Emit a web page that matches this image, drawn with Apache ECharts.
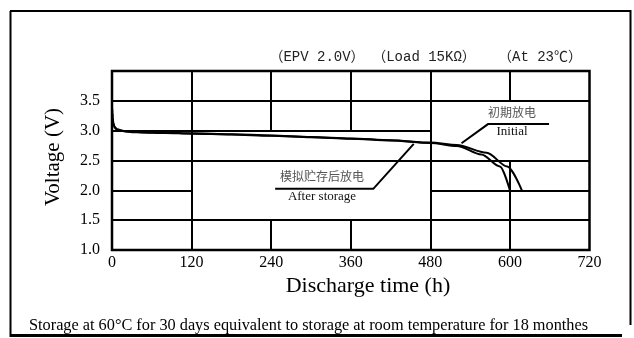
<!DOCTYPE html>
<html>
<head>
<meta charset="utf-8">
<script src="https://cdn.jsdelivr.net/npm/echarts@6/dist/echarts.min.js"></script>
<style>
html,body{margin:0;padding:0;background:#fff;}
#chart{width:634px;height:338px;}
</style>
</head>
<body>
<div id="chart"></div>
<script>
// ---- data ----
var xTicks = [0, 120, 240, 360, 480, 600, 720];
var yTickLabels = ['1.0', '1.5', '2.0', '2.5', '3.0', '3.5'];

var initialTime = [0, 0.5, 1, 2, 4, 7, 12, 20, 30, 45, 80, 120, 180, 240, 300, 360, 420, 480, 520, 565, 596, 618];
var initialVolt = [3.40, 3.30, 3.22, 3.13, 3.06, 3.03, 3.01, 2.99, 2.98, 2.975, 2.965, 2.955, 2.94, 2.92, 2.895, 2.87, 2.84, 2.80, 2.76, 2.63, 2.40, 2.00];

var storageTime = [0, 0.5, 1, 2, 4, 7, 12, 20, 30, 45, 80, 120, 180, 240, 300, 360, 420, 480, 520, 557, 585, 600];
var storageVolt = [3.39, 3.29, 3.21, 3.12, 3.05, 3.02, 3.00, 2.985, 2.975, 2.97, 2.96, 2.95, 2.935, 2.915, 2.89, 2.865, 2.835, 2.795, 2.745, 2.60, 2.40, 2.00];

// broken chart grid, in data units: [t1, v1, t2, v2]
var gridSegments = [
  [0, 3.5, 720, 3.5],
  [0, 3.0, 480, 3.0],
  [0, 2.5, 720, 2.5],
  [0, 2.0, 120, 2.0],
  [480, 2.0, 720, 2.0],
  [0, 1.5, 720, 1.5],
  [120, 1.0, 120, 4.0],
  [240, 3.0, 240, 4.0],
  [240, 1.0, 240, 1.5],
  [360, 3.0, 360, 4.0],
  [360, 1.0, 360, 1.5],
  [480, 1.0, 480, 4.0],
  [600, 3.5, 600, 4.0],
  [600, 1.0, 600, 2.5]
];

// annotation leader lines (data units)
var initialLeader = [[659, 3.11], [567, 3.11], [527, 2.79]];
var storageLeader = [[246, 2.025], [394, 2.025], [455, 2.78]];

var titleTexts = ['（EPV 2.0V）', '（Load 15KΩ）', '（At 23℃）'];
var xAxisName = 'Discharge time (h)';
var yAxisName = 'Voltage (V)';
var footnote = 'Storage at 60°C for 30 days equivalent to storage at room temperature for 18 monthes';
var initialLabelCn = '初期放电', initialLabelEn = 'Initial';
var storageLabelCn = '模拟贮存后放电', storageLabelEn = 'After storage';

// ---- chart ----
function pairs(ts, vs) { return ts.map(function (t, i) { return [t, vs[i]]; }); }

var serif = "'Liberation Serif', 'Times New Roman', serif";
var cjk = "'Noto Sans CJK SC', sans-serif";
var mono = "'Liberation Mono', 'Noto Sans CJK SC', monospace";

var chart = echarts.init(document.getElementById('chart'), null, {renderer: 'canvas'});

var option = {
  backgroundColor: '#fff',
  animation: false,
  grid: {
    left: 112, top: 71, width: 477.5, height: 179,
    show: true, borderColor: '#000', borderWidth: 2.5, backgroundColor: 'transparent'
  },
  xAxis: {
    type: 'value', min: 0, max: 720, interval: 120,
    axisLine: {show: false},
    axisTick: {show: false},
    splitLine: {show: false},
    axisLabel: {
      color: '#000', fontFamily: serif, fontSize: 16, margin: 5,
      formatter: function (v) { return xTicks.indexOf(v) >= 0 ? String(v) : ''; }
    }
  },
  yAxis: {
    type: 'value', min: 1, max: 4, interval: 0.5,
    axisLine: {show: false},
    axisTick: {show: false},
    splitLine: {show: false},
    axisLabel: {
      color: '#000', fontFamily: serif, fontSize: 16, margin: 12,
      padding: [0, 0, 8, 0],
      formatter: function (v) {
        var i = Math.round((v - 1) / 0.5);
        return yTickLabels[i] !== undefined ? yTickLabels[i] : '';
      }
    }
  },
  series: [
    {
      type: 'lines', coordinateSystem: 'cartesian2d', silent: true, z: 1,
      lineStyle: {color: '#000', width: 2, opacity: 1},
      data: gridSegments.map(function (s) { return {coords: [[s[0], s[1]], [s[2], s[3]]]}; })
    },
    {
      name: 'After storage', type: 'line', showSymbol: false, symbol: 'none',
      smooth: 0.3, smoothMonotone: 'x', z: 3,
      lineStyle: {color: '#000', width: 2},
      data: pairs(storageTime, storageVolt)
    },
    {
      name: 'Initial', type: 'line', showSymbol: false, symbol: 'none',
      smooth: 0.3, smoothMonotone: 'x', z: 3,
      lineStyle: {color: '#000', width: 2},
      data: pairs(initialTime, initialVolt)
    },
    {
      type: 'lines', coordinateSystem: 'cartesian2d', polyline: true, silent: true, z: 4,
      symbol: ['none', 'arrow'], symbolSize: 6,
      lineStyle: {color: '#000', width: 2, opacity: 1},
      data: [{coords: initialLeader}, {coords: storageLeader}]
    }
  ],
  graphic: [
    // outer frame
    {type: 'line', shape: {x1: 10.5, y1: 11, x2: 10.5, y2: 337}, style: {stroke: '#000', lineWidth: 2}, z: 10},
    {type: 'line', shape: {x1: 10, y1: 11, x2: 631, y2: 11}, style: {stroke: '#000', lineWidth: 2}, z: 10},
    {type: 'line', shape: {x1: 630.5, y1: 10, x2: 630.5, y2: 325}, style: {stroke: '#000', lineWidth: 2}, z: 10},
    {type: 'line', shape: {x1: 10, y1: 335.5, x2: 622, y2: 335.5}, style: {stroke: '#000', lineWidth: 3}, z: 10},
    // title
    {type: 'text', x: 317, y: 57, style: {text: titleTexts[0], font: '14px ' + mono, fill: '#222', align: 'center', verticalAlign: 'middle'}},
    {type: 'text', x: 424, y: 57, style: {text: titleTexts[1], font: '14px ' + mono, fill: '#222', align: 'center', verticalAlign: 'middle'}},
    {type: 'text', x: 540, y: 57, style: {text: titleTexts[2], font: '14px ' + mono, fill: '#222', align: 'center', verticalAlign: 'middle'}},
    // axis names
    {type: 'text', x: 368, y: 286, style: {text: xAxisName, font: '22px ' + serif, fill: '#000', align: 'center', verticalAlign: 'middle'}},
    {type: 'text', x: 53, y: 157, rotation: Math.PI / 2, style: {text: yAxisName, font: '21px ' + serif, fill: '#000', align: 'center', verticalAlign: 'middle'}},
    // footnote
    {type: 'text', x: 29, y: 326, style: {text: footnote, font: '16.3px ' + serif, fill: '#000', align: 'left', verticalAlign: 'middle'}},
    // annotations
    {type: 'text', x: 512, y: 112, style: {text: initialLabelCn, font: '12px ' + cjk, fill: '#555', align: 'center', verticalAlign: 'middle'}},
    {type: 'text', x: 512, y: 131.5, style: {text: initialLabelEn, font: '13px ' + serif, fill: '#111', align: 'center', verticalAlign: 'middle'}},
    {type: 'text', x: 322, y: 176, style: {text: storageLabelCn, font: '12px ' + cjk, fill: '#555', align: 'center', verticalAlign: 'middle'}},
    {type: 'text', x: 322, y: 196.5, style: {text: storageLabelEn, font: '13px ' + serif, fill: '#111', align: 'center', verticalAlign: 'middle'}}
  ]
};
chart.setOption(option);
</script>
</body>
</html>
